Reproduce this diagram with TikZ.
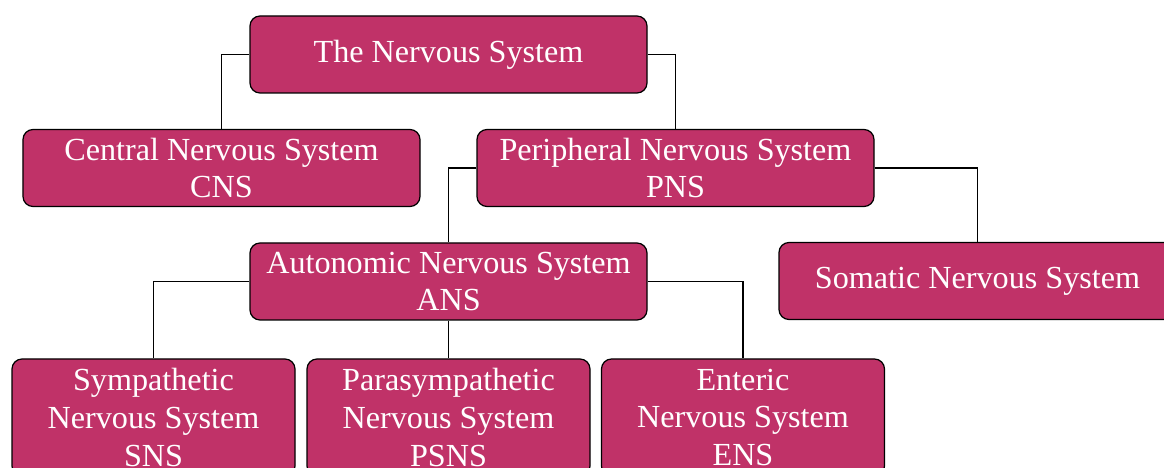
\documentclass[tikz,border=0pt]{standalone}
\usepackage{fontspec}
\setmainfont{Liberation Serif}

\definecolor{nervefill}{HTML}{C03268}

\begin{document}
\begin{tikzpicture}[
  box/.style={draw=black,line width=0.7pt,fill=nervefill,text=white,rounded corners=0.2cm,
    align=center,inner sep=0pt,minimum width=7.94cm,minimum height=1.54cm,
    font=\fontsize{18.3}{21.5}\selectfont},
  leafbox/.style={box,minimum width=5.66cm,minimum height=2.34cm},
  link/.style={draw=black,line width=1pt}]
\useasboundingbox (0,0) rectangle (23.28,-9.36);
% top level
\node[box] (root) at (8.97,-1.09) {The Nervous System};
\node[box] (cns) at (4.43,-3.36) {Central Nervous System\\CNS};
\node[box] (pns) at (13.51,-3.36) {Peripheral Nervous System\\PNS};
% peripheral branch
\node[box] (ans) at (8.97,-5.63) {Autonomic Nervous System\\ANS};
\node[box] (som) at (19.55,-5.62) {Somatic Nervous System};
% autonomic branch
\node[leafbox] (sns) at (3.07,-8.35) {Sympathetic\\Nervous System\\SNS};
\node[leafbox] (psns) at (8.97,-8.35) {Parasympathetic\\Nervous System\\PSNS};
\node[leafbox] (ens) at (14.86,-8.35) {Enteric\\Nervous System\\ENS};
% links
\draw[link] (root.west) -| (cns.north);
\draw[link] (root.east) -| (pns.north);
\draw[link] (pns.west) -| (ans.north);
\draw[link] (pns.east) -| (som.north);
\draw[link] (ans.west) -| (sns.north);
\draw[link] (ans.south) -- (psns.north);
\draw[link] (ans.east) -| (ens.north);
\end{tikzpicture}
\end{document}
